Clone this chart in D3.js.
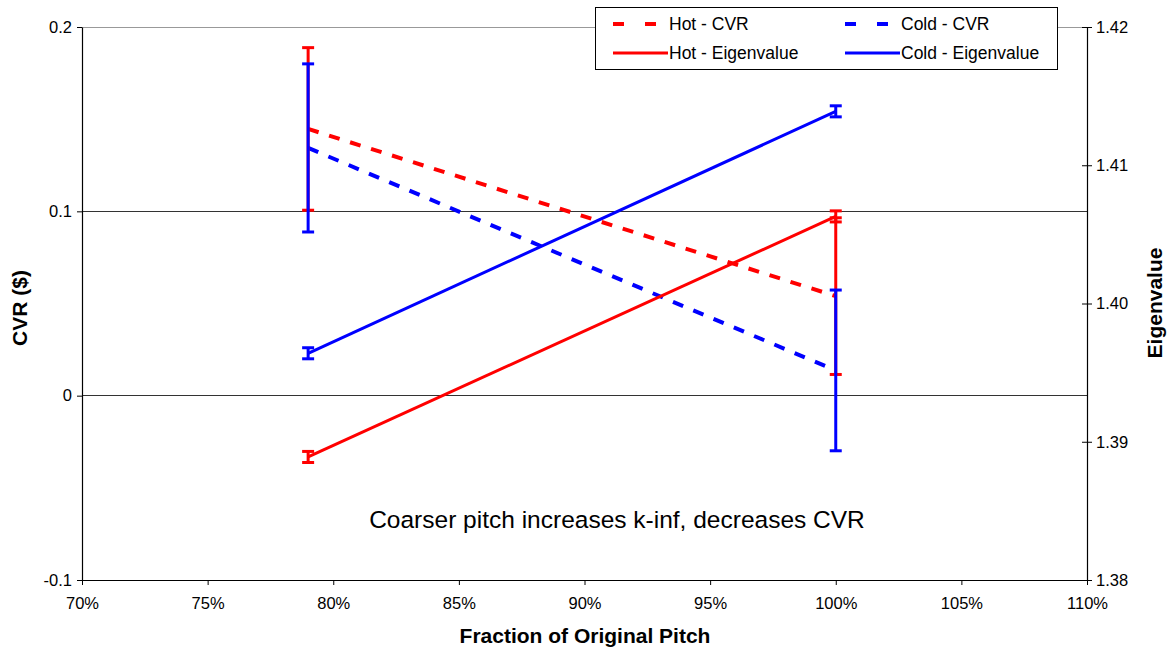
<!DOCTYPE html>
<html><head><meta charset="utf-8">
<script src="https://cdn.jsdelivr.net/npm/d3@7"></script>
<style>body{margin:0;background:#fff;} text{font-family:"Liberation Sans",Arial,sans-serif;}</style>
</head><body>
<svg id="c" width="1168" height="650"></svg>
<script>
const pitch = [0.79, 1.00];
const hotCVR = [0.1447, 0.0540];
const hotCVRErr = [0.0441, 0.0425];
const coldCVR = [0.1344, 0.0137];
const coldCVRErr = [0.0456, 0.0436];
const hotEig = [1.3889, 1.4063];
const hotEigErr = [0.0004, 0.0004];
const coldEig = [1.3964, 1.4139];
const coldEigErr = [0.0004, 0.0004];
const xTicks = [0.70,0.75,0.80,0.85,0.90,0.95,1.00,1.05,1.10];
const yLeftTicks = [-0.1, 0, 0.1, 0.2];
const yRightTicks = [1.38,1.39,1.40,1.41,1.42];
const annotation = "Coarser pitch increases k-inf, decreases CVR";

const svg = d3.select("#c");
const L=82, R=1087, T=27, B=580;
const x = d3.scaleLinear().domain([0.70,1.10]).range([L,R]);
const yL = d3.scaleLinear().domain([-0.1,0.2]).range([B,T]);
const yR = d3.scaleLinear().domain([1.38,1.42]).range([B,T]);

// gridlines
svg.append("g").selectAll("line").data(yLeftTicks.filter(d=>d>-0.1)).join("line")
  .attr("x1",L).attr("x2",R).attr("y1",d=>yL(d)).attr("y2",d=>yL(d))
  .attr("stroke",d=>d===0.2?"#999":"#333").attr("stroke-width",1).attr("shape-rendering","crispEdges");

// axes
const gx = svg.append("g").attr("transform",`translate(0,${B})`)
  .call(d3.axisBottom(x).tickValues(xTicks).tickSize(5).tickSizeOuter(0).tickFormat(d=>Math.round(d*100)+"%"));
const gl = svg.append("g").attr("transform",`translate(${L},0)`)
  .call(d3.axisLeft(yL).tickValues(yLeftTicks).tickSize(5).tickSizeOuter(0).tickFormat(d=>d===0?"0":d3.format(".1f")(d).replace("\u2212","-")));
const gr = svg.append("g").attr("transform",`translate(${R},0)`)
  .call(d3.axisRight(yR).tickValues(yRightTicks).tickSize(5).tickSizeOuter(0).tickFormat(d3.format(".2f")));
[gx,gl,gr].forEach(g=>{
  g.selectAll("path").attr("stroke","#000").attr("stroke-width",1.2);
  g.selectAll("line").attr("stroke","#000");
  g.selectAll("text").attr("font-size",16.5).attr("fill","#000").style("font-family","Liberation Sans, Arial, sans-serif");
});
gx.selectAll("text").attr("dy","1.3em");
gl.selectAll("text").attr("x",-10);
gr.selectAll("line").attr("x1",-5);
gr.selectAll("text").attr("x",9);

// series
const series = [
  {v:hotCVR, e:hotCVRErr, y:yL, c:"#ff0000", dash:"11,11"},
  {v:coldCVR, e:coldCVRErr, y:yL, c:"#0000ff", dash:"11,11"},
  {v:hotEig, e:hotEigErr, y:yR, c:"#ff0000", dash:null},
  {v:coldEig, e:coldEigErr, y:yR, c:"#0000ff", dash:null}
];
const line = (ys)=>d3.line().x((d,i)=>x(pitch[i])).y(d=>ys(d));
series.forEach(s=>{
  svg.append("path").datum(s.v).attr("d",line(s.y)).attr("fill","none")
    .attr("stroke",s.c).attr("stroke-width",s.dash?4:3)
    .attr("stroke-dasharray",s.dash);
});
series.forEach(s=>{
  const g = svg.append("g").attr("stroke",s.c).attr("stroke-width",3);
  s.v.forEach((v,i)=>{
    const cx = x(pitch[i]), y1 = s.y(v+s.e[i]), y2 = s.y(v-s.e[i]);
    g.append("line").attr("x1",cx).attr("x2",cx).attr("y1",y1).attr("y2",y2);
    g.append("line").attr("x1",cx-6).attr("x2",cx+6).attr("y1",y1).attr("y2",y1);
    g.append("line").attr("x1",cx-6).attr("x2",cx+6).attr("y1",y2).attr("y2",y2);
  });
});

// annotation
svg.append("text").attr("x",617).attr("y",528)
  .attr("text-anchor","middle").attr("font-size",24.5).text(annotation);

// axis titles
svg.append("text").attr("x",585).attr("y",643).attr("text-anchor","middle")
  .attr("font-size",21).attr("font-weight","bold").text("Fraction of Original Pitch");
svg.append("text").attr("transform","translate(27,308) rotate(-90)").attr("text-anchor","middle")
  .attr("font-size",21).attr("font-weight","bold").text("CVR ($)");
svg.append("text").attr("transform","translate(1162,303) rotate(-90)").attr("text-anchor","middle")
  .attr("font-size",21).attr("font-weight","bold").text("Eigenvalue");

// legend
const lg = svg.append("g");
lg.append("rect").attr("x",595.5).attr("y",7.5).attr("width",462).attr("height",62)
  .attr("fill","#fff").attr("stroke","#000").attr("stroke-width",1);
const legItems = [
  {t:"Hot - CVR", c:"#ff0000", dash:"11,21", lx:613, ty:24},
  {t:"Cold - CVR", c:"#0000ff", dash:"11,21", lx:845, ty:24},
  {t:"Hot - Eigenvalue", c:"#ff0000", dash:null, lx:613, ty:53},
  {t:"Cold - Eigenvalue", c:"#0000ff", dash:null, lx:845, ty:53}
];
legItems.forEach(d=>{
  lg.append("line").attr("x1",d.lx).attr("x2",d.lx+55).attr("y1",d.ty).attr("y2",d.ty)
    .attr("stroke",d.c).attr("stroke-width",d.dash?4:3).attr("stroke-dasharray",d.dash);
  lg.append("text").attr("x",d.lx+56).attr("y",d.ty+6).attr("font-size",17.5).text(d.t);
});
</script>
</body></html>
